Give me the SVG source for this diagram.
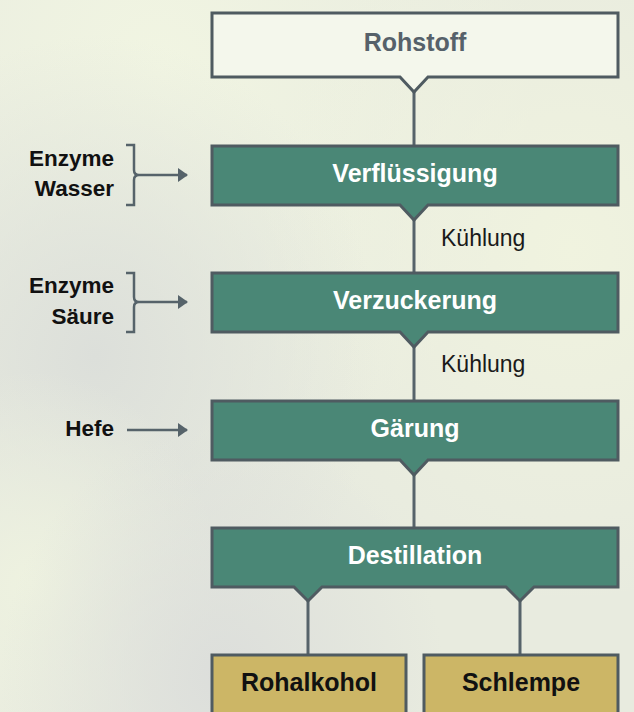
<svg xmlns="http://www.w3.org/2000/svg" width="634" height="712" viewBox="0 0 634 712">
  <defs>
    <radialGradient id="bg1" cx="0.25" cy="0.1" r="0.6">
      <stop offset="0" stop-color="#f1f5e2"/>
      <stop offset="1" stop-color="#f1f5e2" stop-opacity="0"/>
    </radialGradient>
    <radialGradient id="bg2" cx="0.15" cy="0.5" r="0.45">
      <stop offset="0" stop-color="#dcdfda"/>
      <stop offset="1" stop-color="#dcdfda" stop-opacity="0"/>
    </radialGradient>
    <radialGradient id="bg3" cx="0.9" cy="0.35" r="0.5">
      <stop offset="0" stop-color="#f0f3df"/>
      <stop offset="1" stop-color="#f0f3df" stop-opacity="0"/>
    </radialGradient>
    <radialGradient id="bg4" cx="0.05" cy="0.82" r="0.3">
      <stop offset="0" stop-color="#eef2e0"/>
      <stop offset="1" stop-color="#eef2e0" stop-opacity="0"/>
    </radialGradient>
    <radialGradient id="bg5" cx="0.35" cy="0.95" r="0.35">
      <stop offset="0" stop-color="#dcdedb"/>
      <stop offset="1" stop-color="#dcdedb" stop-opacity="0"/>
    </radialGradient>
    <marker id="arr" viewBox="0 0 10 14" refX="9" refY="7" markerWidth="10" markerHeight="14" markerUnits="userSpaceOnUse" orient="auto">
      <path d="M0,0 L10,7 L0,14 Z" fill="#56636a"/>
    </marker>
    <style>
      .box { stroke: #4f5b61; stroke-width: 3; stroke-linejoin: miter; }
      .green { fill: #4a8776; }
      .gold { fill: #ccb666; }
      .white { fill: #f4f7ec; }
      .t { font-family: "Liberation Sans", Arial, sans-serif; font-weight: bold; font-size: 25px; text-anchor: middle; }
      .tw { fill: #ffffff; }
      .tk { fill: #111111; }
      .tg { fill: #56616a; }
      .lbl { font-family: "Liberation Sans", Arial, sans-serif; font-weight: bold; font-size: 22.5px; text-anchor: end; fill: #111111; }
      .side { font-family: "Liberation Sans", Arial, sans-serif; font-size: 23px; fill: #1a1a1a; }
      .ln { stroke: #56636a; stroke-width: 3; fill: none; }
      .in { stroke: #56636a; stroke-width: 2.5; fill: none; }
    </style>
  </defs>
  <rect x="0" y="0" width="634" height="712" fill="#e8ebdf"/>
  <rect x="0" y="0" width="634" height="712" fill="url(#bg1)"/>
  <rect x="0" y="0" width="634" height="712" fill="url(#bg3)"/>
  <rect x="0" y="0" width="634" height="712" fill="url(#bg2)"/>
  <rect x="0" y="0" width="634" height="712" fill="url(#bg4)"/>
  <rect x="0" y="0" width="634" height="712" fill="url(#bg5)"/>

  <g id="connectors">
    <line class="ln" x1="414" y1="90" x2="414" y2="146"/>
    <line class="ln" x1="414" y1="218" x2="414" y2="273"/>
    <line class="ln" x1="414" y1="345" x2="414" y2="401"/>
    <line class="ln" x1="414" y1="473" x2="414" y2="528"/>
    <line class="ln" x1="308" y1="599" x2="308" y2="655"/>
    <line class="ln" x1="520" y1="599" x2="520" y2="655"/>
    <path class="in" d="M126,145 H134 V170 Q134,175 139,175 Q134,175 134,180 V205 H126"/>
    <line class="in" x1="139" y1="175" x2="187" y2="175" marker-end="url(#arr)"/>
    <path class="in" d="M126,273 H134 V297 Q134,302 139,302 Q134,302 134,307 V332 H126"/>
    <line class="in" x1="139" y1="302" x2="187" y2="302" marker-end="url(#arr)"/>
    <line class="in" x1="127" y1="430" x2="187" y2="430" marker-end="url(#arr)"/>
    <text class="side" x="441" y="246">Kühlung</text>
    <text class="side" x="441" y="372">Kühlung</text>
  </g>

  <g id="rohstoff">
    <path class="box white" d="M212,13 H618 V77 H428 L414,92 L400,77 H212 Z"/>
    <text class="t tg" x="415" y="51">Rohstoff</text>
  </g>
  <g id="verfluessigung">
    <path class="box green" d="M212,146 H618 V205 H428 L414,220 L400,205 H212 Z"/>
    <text class="t tw" x="415" y="182">Verflüssigung</text>
  </g>
  <g id="verzuckerung">
    <path class="box green" d="M212,273 H618 V332 H428 L414,347 L400,332 H212 Z"/>
    <text class="t tw" x="415" y="309">Verzuckerung</text>
  </g>
  <g id="gaerung">
    <path class="box green" d="M212,401 H618 V460 H428 L414,475 L400,460 H212 Z"/>
    <text class="t tw" x="415" y="437">Gärung</text>
  </g>
  <g id="destillation">
    <path class="box green" d="M212,528 H618 V587 H534 L520,601 L506,587 H322 L308,601 L294,587 H212 Z"/>
    <text class="t tw" x="415" y="564">Destillation</text>
  </g>
  <g id="rohalkohol">
    <rect class="box gold" x="212" y="655" width="194" height="59"/>
    <text class="t tk" x="309" y="691">Rohalkohol</text>
  </g>
  <g id="schlempe">
    <rect class="box gold" x="424" y="655" width="194" height="59"/>
    <text class="t tk" x="521" y="691">Schlempe</text>
  </g>

  <g id="input-enzyme-wasser">
    <text class="lbl" x="114" y="166">Enzyme</text>
    <text class="lbl" x="114" y="196">Wasser</text>
  </g>
  <g id="input-enzyme-saeure">
    <text class="lbl" x="114" y="293">Enzyme</text>
    <text class="lbl" x="114" y="324">Säure</text>
  </g>
  <g id="input-hefe">
    <text class="lbl" x="114" y="436">Hefe</text>
  </g>
</svg>
